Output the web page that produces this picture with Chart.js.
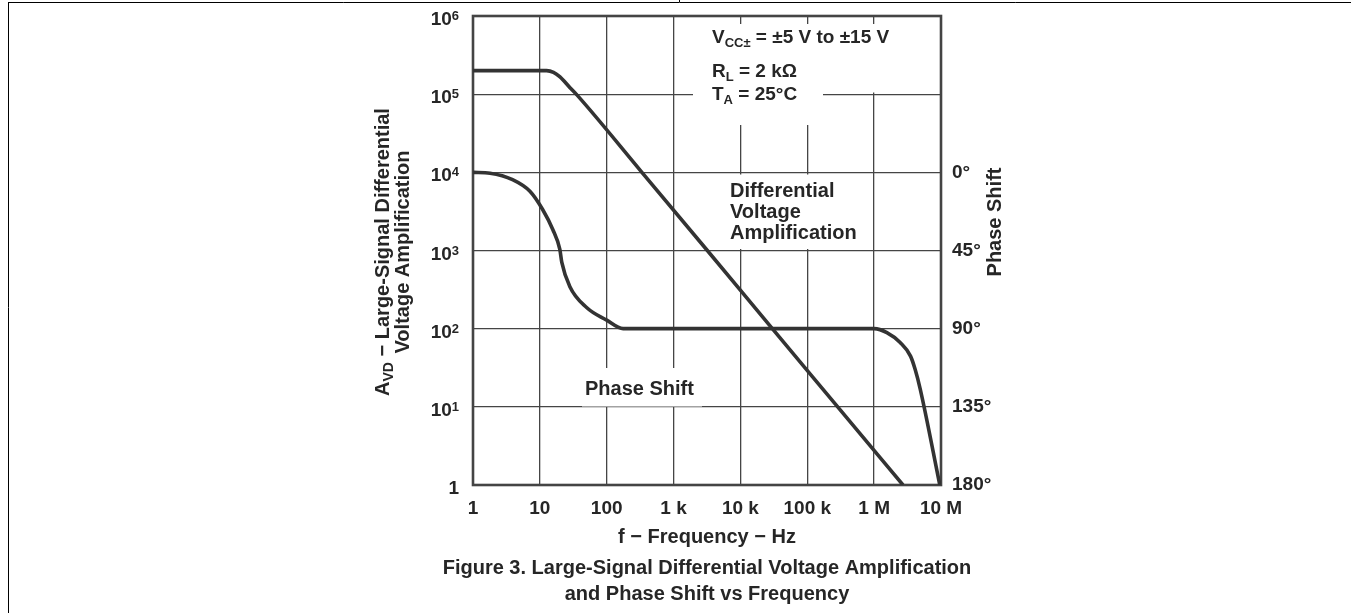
<!DOCTYPE html>
<html><head><meta charset="utf-8">
<script src="https://cdn.jsdelivr.net/npm/chart.js@4.4.0/dist/chart.umd.min.js"></script>
<style>html,body{margin:0;padding:0;background:#fff;overflow:hidden}canvas{display:block}</style>
</head><body>
<canvas id="c" width="1351" height="613"></canvas>
<script>
// ---- data ----
const freqTicks = [1, 10, 100, 1e3, 1e4, 1e5, 1e6, 1e7];
const freqTickLabels = ['1', '10', '100', '1 k', '10 k', '100 k', '1 M', '10 M'];
const gainTicks = [1, 10, 100, 1e3, 1e4, 1e5, 1e6];
const gainTickBase = ['1', '10', '10', '10', '10', '10', '10'];
const gainTickExp = ['', '1', '2', '3', '4', '5', '6'];
const phaseTicks = [0, 45, 90, 135, 180];
const phaseTickLabels = ['0°', '45°', '90°', '135°', '180°'];

const gainFreq = [1, 12.6, 16, 20, 28, 35, 336, 3.2e3, 3.0e4, 2.85e5, 2.7e6];
const gainValues = [2e5, 2e5, 1.9e5, 1.66e5, 1.22e5, 1e5, 1e4, 1e3, 100, 10, 1];

const phaseFreq = [1, 1.8, 3.9, 7.1, 11, 15.6, 19.9, 21.3, 28, 50, 100, 176, 1.0e6, 1.55e6, 2.45e6, 3.5e6, 4.1e6, 4.9e6, 9.6e6];
const phaseValues = [0, 0.5, 4.2, 10.9, 21.4, 32.9, 44.4, 51.9, 65.7, 77.8, 85.1, 90, 90, 92.3, 98, 105.8, 113.4, 124.9, 180];

// ---- style ----
const FONT = '"Liberation Sans", Arial, sans-serif';
const TXT = '#262626';
const LINE = '#333333';
const GRID = '#454545';

function rich(ctx, parts, x, y, align) {
  let w = 0;
  parts.forEach(p => { ctx.font = 'bold ' + p[1] + 'px ' + FONT; w += ctx.measureText(p[0]).width; });
  let cx = align === 'right' ? x - w : align === 'center' ? x - w / 2 : x;
  ctx.textAlign = 'left';
  ctx.textBaseline = 'alphabetic';
  parts.forEach(p => {
    ctx.font = 'bold ' + p[1] + 'px ' + FONT;
    ctx.fillText(p[0], cx, y + (p[2] || 0));
    cx += ctx.measureText(p[0]).width;
  });
}

const decor = {
  id: 'decor',
  beforeDatasetsDraw(chart) {
    const ctx = chart.ctx, a = chart.chartArea;
    const ys = chart.scales.y;
    ctx.save();
    // white boxes behind annotations
    ctx.fillStyle = '#fff';
    ctx.fillRect(693, 24, a.right - 693, 68.5);
    ctx.fillRect(693, 24, 130, 101);
    ctx.fillRect(727, 174.5, 135, 74.5);
    ctx.fillRect(582, 368, 120, 38.5);
    // border
    ctx.strokeStyle = '#444';
    ctx.lineWidth = 2.6;
    ctx.strokeRect(a.left, a.top, a.right - a.left, a.bottom - a.top);
    ctx.fillStyle = TXT;
    // annotations
    rich(ctx, [['V', 19], ['CC±', 13, 4], [' = ±5 V to ±15 V', 19]], 712, 43, 'left');
    rich(ctx, [['R', 19], ['L', 13, 4], [' = 2 kΩ', 19]], 712, 77, 'left');
    rich(ctx, [['T', 19], ['A', 13, 4], [' = 25°C', 19]], 712, 100, 'left');
    rich(ctx, [['Differential', 20]], 730, 197, 'left');
    rich(ctx, [['Voltage', 20]], 730, 218, 'left');
    rich(ctx, [['Amplification', 20]], 730, 239, 'left');
    rich(ctx, [['Phase Shift', 20]], 585, 395, 'left');
    // left tick labels with superscripts
    gainTicks.forEach((v, i) => {
      const y = ys.getPixelForValue(v);
      const parts = [[gainTickBase[i], 19]];
      if (gainTickExp[i]) parts.push([gainTickExp[i], 13, -5]);
      rich(ctx, parts, 459, y + 9, 'right');
    });
    // left axis title (rotated)
    ctx.save();
    ctx.translate(389, 252);
    ctx.rotate(-Math.PI / 2);
    rich(ctx, [['A', 20], ['VD', 14, 4], [' − Large-Signal Differential', 20]], 0, 0, 'center');
    ctx.restore();
    ctx.save();
    ctx.translate(409, 252);
    ctx.rotate(-Math.PI / 2);
    rich(ctx, [['Voltage Amplification', 20]], 0, 0, 'center');
    ctx.restore();
    // right axis title
    ctx.save();
    ctx.translate(1001, 222);
    ctx.rotate(-Math.PI / 2);
    rich(ctx, [['Phase Shift', 20]], 0, 0, 'center');
    ctx.restore();
    // x title and caption
    const cx = (a.left + a.right) / 2;
    rich(ctx, [['f − Frequency − Hz', 20]], cx, 543, 'center');
    rich(ctx, [['Figure 3. Large-Signal Differential Voltage Amplification', 20]], cx, 574, 'center');
    rich(ctx, [['and Phase Shift vs Frequency', 20]], cx, 600, 'center');
    // page frame
    ctx.strokeStyle = '#000';
    ctx.lineWidth = 1;
    ctx.beginPath();
    ctx.moveTo(8, 2.5); ctx.lineTo(1351, 2.5);
    ctx.moveTo(8.5, 2); ctx.lineTo(8.5, 613);
    ctx.moveTo(679.5, 0); ctx.lineTo(679.5, 2);
    ctx.stroke();
    ctx.restore();
  }
};

const pts = (xs, ys) => xs.map((x, i) => ({ x: x, y: ys[i] }));
const tickFont = { family: FONT, size: 19, weight: 'bold' };
const noPadV = s => { s.paddingTop = 0; s.paddingBottom = 0; };

new Chart(document.getElementById('c'), {
  type: 'scatter',
  data: {
    datasets: [
      { label: 'Differential Voltage Amplification', data: pts(gainFreq, gainValues), yAxisID: 'y',
        showLine: true, borderColor: LINE, borderWidth: 3.6, pointRadius: 0, cubicInterpolationMode: 'monotone' },
      { label: 'Phase Shift', data: pts(phaseFreq, phaseValues), yAxisID: 'phase',
        showLine: true, borderColor: LINE, borderWidth: 3.6, pointRadius: 0, cubicInterpolationMode: 'monotone' }
    ]
  },
  options: {
    responsive: false, animation: false, devicePixelRatio: 1,
    layout: { padding: { top: 16, left: 0, right: 0, bottom: 0 } },
    plugins: { legend: { display: false }, tooltip: { enabled: false } },
    scales: {
      x: {
        type: 'logarithmic', position: 'bottom', min: 1, max: 1e7,
        afterBuildTicks: s => { s.ticks = freqTicks.map(v => ({ value: v })); },
        afterFit: s => { s.height = 128; s.paddingLeft = 0; s.paddingRight = 0; },
        ticks: { autoSkip: false, maxRotation: 0, padding: 12, color: TXT, font: tickFont,
          callback: (v, i) => freqTickLabels[i] },
        grid: { color: GRID, lineWidth: 1.3, drawTicks: false },
        border: { display: false }
      },
      y: {
        type: 'logarithmic', position: 'left', min: 1, max: 1e6,
        afterBuildTicks: s => { s.ticks = gainTicks.map(v => ({ value: v })); },
        afterFit: s => { s.width = 473; noPadV(s); },
        ticks: { display: false },
        grid: { color: GRID, lineWidth: 1.3, drawTicks: false },
        border: { display: false }
      },
      phase: {
        type: 'linear', position: 'right', min: -90, max: 180, reverse: true,
        afterBuildTicks: s => { s.ticks = phaseTicks.map(v => ({ value: v })); },
        afterFit: s => { s.width = 410; noPadV(s); },
        ticks: { padding: 11, color: TXT, font: tickFont, callback: (v, i) => phaseTickLabels[i] },
        grid: { display: false, drawTicks: false },
        border: { display: false }
      }
    }
  },
  plugins: [decor]
});
</script>
</body></html>
